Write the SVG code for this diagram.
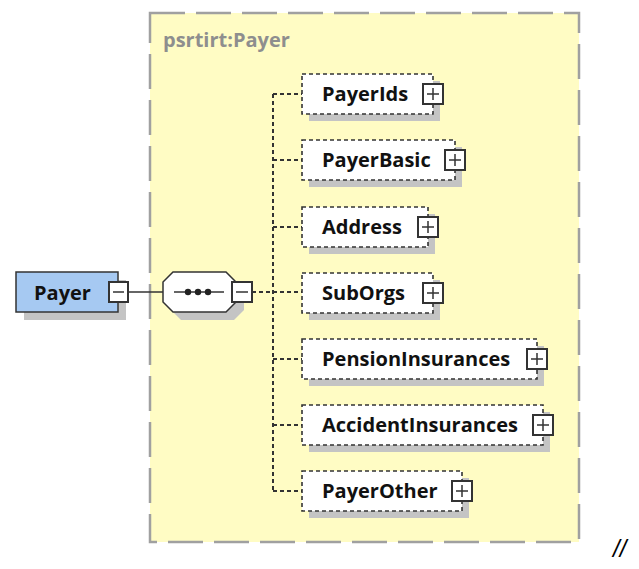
<svg xmlns="http://www.w3.org/2000/svg" width="639" height="569" viewBox="0 0 639 569">
<style>
.t{font-family:"Open Sans","Liberation Sans",sans-serif;font-weight:bold;font-size:20px;fill:#111}
.shadow{fill:#c4c4c4}
.child{fill:#ffffff;stroke:#333;stroke-width:1.6;stroke-dasharray:4 3}
.plus{fill:#ffffff;stroke:#333;stroke-width:2}
.pl{stroke:#333;stroke-width:1.5;fill:none}
.conn{stroke:#333;stroke-width:2;stroke-dasharray:4 3;fill:none}
</style>
<rect width="639" height="569" fill="#ffffff"/>
<g id="group-psrtirt-Payer">
<rect x="150" y="13" width="429" height="529" fill="#fffcc4" stroke="#a0a0a0" stroke-width="2.5" stroke-dasharray="35 11"/>
<text x="163" y="47" class="t" style="fill:#8e8e8e">psrtirt:Payer</text>
</g>
<g id="connectors">
<line x1="128" y1="292" x2="163" y2="292" stroke="#333" stroke-width="1.5"/>
<line x1="252" y1="292" x2="302" y2="292" class="conn"/>
<line x1="273" y1="94" x2="273" y2="491" class="conn"/>
<line x1="273" y1="94" x2="302" y2="94" class="conn"/>
<line x1="273" y1="160" x2="302" y2="160" class="conn"/>
<line x1="273" y1="227" x2="302" y2="227" class="conn"/>
<line x1="273" y1="359" x2="302" y2="359" class="conn"/>
<line x1="273" y1="425" x2="302" y2="425" class="conn"/>
<line x1="273" y1="491" x2="302" y2="491" class="conn"/>
</g>
<g id="Payer">
<rect x="24" y="280" width="102" height="40" class="shadow"/>
<rect x="16" y="272" width="102" height="40" fill="#a6c9f2" stroke="#333" stroke-width="1.5"/>
<text x="34" y="300" class="t">Payer</text>
<rect x="109" y="282" width="19" height="20" class="plus"/>
<line x1="113" y1="292" x2="124" y2="292" class="pl"/>
</g>
<g id="sequence">
<polygon points="181,280 234,280 244,290 244,310 234,320 181,320 171,310 171,290" class="shadow"/>
<polygon points="173,272 226,272 236,282 236,302 226,312 173,312 163,302 163,282" fill="#ffffff" stroke="#333" stroke-width="1.5"/>
<line x1="174" y1="292" x2="224" y2="292" stroke="#333" stroke-width="1.5"/>
<circle cx="188" cy="292" r="3.2" fill="#222"/>
<circle cx="198" cy="292" r="3.2" fill="#222"/>
<circle cx="208" cy="292" r="3.2" fill="#222"/>
<rect x="232" y="282" width="20" height="20" class="plus"/>
<line x1="236" y1="292" x2="248" y2="292" class="pl"/>
</g>
<g id="PayerIds">
<rect x="309" y="81" width="131" height="40" class="shadow"/>
<rect x="302" y="74" width="131" height="40" class="child"/>
<text x="322" y="101" class="t">PayerIds</text>
<rect x="423" y="84" width="20" height="20" class="plus"/>
<path d="M427 94H439M433 88V100" class="pl"/>
</g>
<g id="PayerBasic">
<rect x="309" y="147" width="153" height="40" class="shadow"/>
<rect x="302" y="140" width="153" height="40" class="child"/>
<text x="322" y="167" class="t">PayerBasic</text>
<rect x="445" y="150" width="20" height="20" class="plus"/>
<path d="M449 160H461M455 154V166" class="pl"/>
</g>
<g id="Address">
<rect x="309" y="214" width="126" height="40" class="shadow"/>
<rect x="302" y="207" width="126" height="40" class="child"/>
<text x="322" y="234" class="t">Address</text>
<rect x="418" y="217" width="20" height="20" class="plus"/>
<path d="M422 227H434M428 221V233" class="pl"/>
</g>
<g id="SubOrgs">
<rect x="309" y="280" width="131" height="40" class="shadow"/>
<rect x="302" y="273" width="131" height="40" class="child"/>
<text x="322" y="300" class="t">SubOrgs</text>
<rect x="423" y="283" width="20" height="20" class="plus"/>
<path d="M427 293H439M433 287V299" class="pl"/>
</g>
<g id="PensionInsurances">
<rect x="309" y="346" width="235" height="40" class="shadow"/>
<rect x="302" y="339" width="235" height="40" class="child"/>
<text x="322" y="366" class="t">PensionInsurances</text>
<rect x="527" y="349" width="20" height="20" class="plus"/>
<path d="M531 359H543M537 353V365" class="pl"/>
</g>
<g id="AccidentInsurances">
<rect x="309" y="412" width="241" height="40" class="shadow"/>
<rect x="302" y="405" width="241" height="40" class="child"/>
<text x="322" y="432" class="t">AccidentInsurances</text>
<rect x="533" y="415" width="20" height="20" class="plus"/>
<path d="M537 425H549M543 419V431" class="pl"/>
</g>
<g id="PayerOther">
<rect x="309" y="478" width="160" height="40" class="shadow"/>
<rect x="302" y="471" width="160" height="40" class="child"/>
<text x="322" y="498" class="t">PayerOther</text>
<rect x="452" y="481" width="20" height="20" class="plus"/>
<path d="M456 491H468M462 485V497" class="pl"/>
</g>
<text x="613" y="557" style="font-family:'Liberation Sans',sans-serif;font-style:italic;font-size:24px;fill:#000">//</text>
</svg>
